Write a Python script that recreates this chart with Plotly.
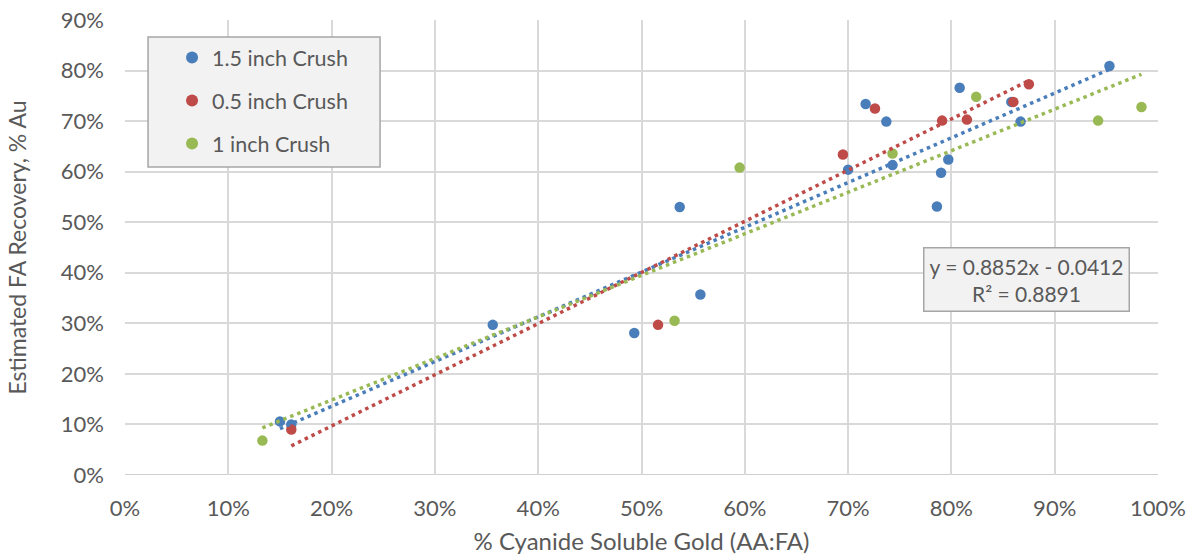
import numpy as np
import plotly.graph_objects as go

# Recovery vs cyanide-soluble gold, as fractions (axes format them as %)
blue_name = "1.5 inch Crush"
blue_x = [0.150, 0.161, 0.356, 0.493, 0.537, 0.557, 0.700, 0.717, 0.737,
          0.743, 0.786, 0.790, 0.797, 0.808, 0.858, 0.867, 0.953]
blue_y = [0.106, 0.100, 0.297, 0.281, 0.530, 0.357, 0.604, 0.734, 0.699,
          0.613, 0.531, 0.598, 0.624, 0.766, 0.738, 0.699, 0.809]

red_name = "0.5 inch Crush"
red_x = [0.161, 0.516, 0.695, 0.726, 0.791, 0.815, 0.860, 0.875]
red_y = [0.090, 0.297, 0.634, 0.725, 0.701, 0.703, 0.738, 0.773]

green_name = "1 inch Crush"
green_x = [0.133, 0.532, 0.595, 0.743, 0.824, 0.942, 0.984]
green_y = [0.068, 0.305, 0.608, 0.636, 0.748, 0.701, 0.728]

# Fit reported for the 1.5 inch series
blue_slope = 0.8852
blue_intercept = -0.0412
blue_r2 = 0.8891

x_ticks = [i / 10 for i in range(11)]
y_ticks = [i / 10 for i in range(10)]

BLUE, RED, GREEN = "#4a7ebb", "#be4b48", "#98b954"
GRID = "#d9d9d9"
TEXT = "#595959"
FONT = "Lato"
BOX_FILL, BOX_EDGE = "#f2f2f2", "#a6a6a6"

fig = go.Figure()

series = [
    (blue_name, blue_x, blue_y, BLUE),
    (red_name, red_x, red_y, RED),
    (green_name, green_x, green_y, GREEN),
]

for i, (name, xs, ys, color) in enumerate(series):
    fig.add_trace(go.Scatter(
        x=xs, y=ys, mode="markers", name=name,
        legendgroup=f"g{i}",
        marker=dict(color=color, size=10.5),
    ))

# Linear trendlines spanning each series' x range
for name, xs, ys, color in series:
    if name == blue_name:
        slope, intercept = blue_slope, blue_intercept
    else:
        slope, intercept = np.polyfit(xs, ys, 1)
    tx = np.array([min(xs), max(xs)])
    fig.add_trace(go.Scatter(
        x=tx, y=slope * tx + intercept, mode="lines", showlegend=False,
        hoverinfo="skip",
        line=dict(color=color, width=3.5, dash="3.5px,4px"),
    ))

fig.add_annotation(
    xref="paper", yref="paper", x=0.873, y=0.4286,
    xanchor="center", yanchor="middle", showarrow=False,
    text=f"y = {blue_slope:.4f}x - {abs(blue_intercept):.4f}<br>R² = {blue_r2:.4f}",
    font=dict(family=FONT, size=21, color=TEXT),
    align="center", bgcolor=BOX_FILL, bordercolor=BOX_EDGE,
    borderwidth=1.5, borderpad=5,
)

# Panel behind the legend entries
fig.add_shape(type="rect", xref="paper", yref="paper",
              x0=0.0223, x1=0.2469, y0=0.6769, y1=0.9626,
              fillcolor=BOX_FILL, line=dict(color=BOX_EDGE, width=1.5),
              layer="above")

fig.update_layout(
    width=1192, height=557,
    margin=dict(l=125, r=34, t=20, b=82),
    paper_bgcolor="white", plot_bgcolor="white",
    font=dict(family=FONT, color=TEXT, size=22),
    legend=dict(
        x=0.0223, y=0.9626, xanchor="left", yanchor="top",
        bgcolor="rgba(0,0,0,0)", borderwidth=0,
        font=dict(family=FONT, size=21.5, color=TEXT),
        tracegroupgap=12, indentation=24,
        itemsizing="constant",
    ),
    xaxis=dict(
        range=[0, 1], tickvals=x_ticks, tickformat=".0%",
        showgrid=True, gridcolor=GRID, gridwidth=1.5,
        zeroline=False, showline=False, ticks="",
        automargin=False,
        ticklabelstandoff=18,
        tickfont=dict(family=FONT, size=22, color=TEXT),
        title=dict(text="% Cyanide Soluble Gold (AA:FA)",
                   font=dict(family=FONT, size=24, color=TEXT), standoff=13),
    ),
    yaxis=dict(
        range=[0, 0.9], tickvals=y_ticks, tickformat=".0%",
        showgrid=True, gridcolor=GRID, gridwidth=1.5,
        zeroline=False, showline=False, ticks="",
        automargin=False,
        ticklabelstandoff=20,
        tickfont=dict(family=FONT, size=22, color=TEXT),
        title=dict(text="Estimated FA Recovery, % Au",
                   font=dict(family=FONT, size=23, color=TEXT), standoff=27),
    ),
)

# Slightly darker baseline along the x axis
fig.add_shape(type="line", xref="paper", yref="y", x0=0, x1=1, y0=0, y1=0,
              line=dict(color="#bfbfbf", width=1.5), layer="below")

fig.write_html("out.html")
